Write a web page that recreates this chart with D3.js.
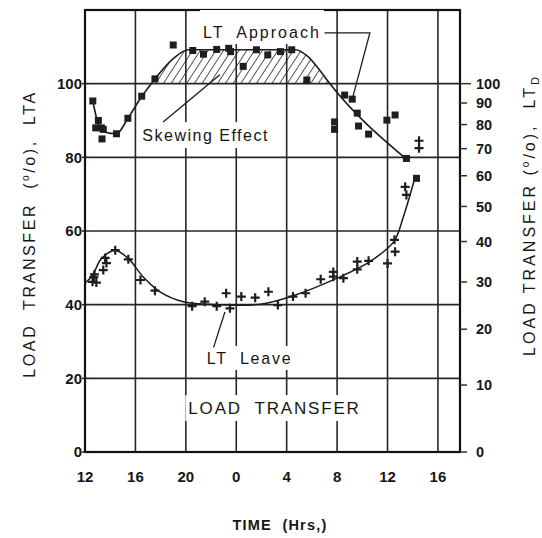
<!DOCTYPE html>
<html>
<head>
<meta charset="utf-8">
<script src="https://cdn.jsdelivr.net/npm/d3@7"></script>
<style>
  body { margin: 0; background: #fff; }
  text { font-family: "Liberation Sans", Arial, sans-serif; fill: #161616; white-space: pre; }
</style>
</head>
<body>
<div id="chart"></div>
<script>
/*
 *  DATA
 */
var xTicks = [12, 16, 20, 24, 28, 32, 36, 40];
var xTickLabels = ["12", "16", "20", "0", "4", "8", "12", "16"];
var yTicksLeft = [0, 20, 40, 60, 80, 100];
var yTicksRight = [0, 10, 20, 30, 40, 50, 60, 70, 80, 90, 100];

// LT approach, measured points (hours since noon of day 1, LTA %)
var approachHours = [12.62, 12.85, 13.06, 13.3, 13.45, 13.35, 14.5, 15.4, 16.5, 17.55, 19.0, 20.55, 21.4, 22.45, 23.4, 23.55, 24.55, 25.6, 26.5, 27.5, 28.4, 29.6, 31.8, 31.8, 32.6, 33.2, 33.6, 33.7, 34.5, 35.95, 36.6, 37.5, 38.3];
var approachValues = [95.3, 88.0, 90.0, 88.0, 87.6, 85.0, 86.4, 90.6, 96.6, 101.3, 110.5, 109.0, 108.0, 109.3, 109.6, 108.7, 104.7, 109.2, 107.8, 108.7, 109.2, 101.0, 89.6, 87.6, 96.9, 95.8, 92.0, 88.5, 86.3, 90.1, 91.5, 79.7, 74.3];
// LT approach, fitted line
var approachFitHours = [12.62, 13.1, 13.6, 14.5, 15.4, 16.5, 17.55, 19.0, 20.2, 28.7, 29.6, 30.5, 31.2, 37.5];
var approachFitValues = [95.3, 88.6, 86.8, 86.4, 90.6, 96.5, 101.3, 106.8, 109.2, 109.2, 107.6, 104.2, 101.0, 79.5];

// LT leave, measured points
var leaveHours = [12.6, 12.7, 12.9, 12.75, 13.45, 13.6, 13.7, 14.4, 15.44, 16.4, 17.55, 20.5, 21.5, 22.45, 23.5, 23.2, 24.4, 25.5, 26.55, 27.3, 28.5, 29.5, 30.7, 31.7, 31.7, 32.5, 33.6, 33.6, 34.5, 36.0, 36.6, 36.55, 37.4, 37.5, 38.5, 38.5];
var leaveValues = [46.2, 47.5, 46.0, 48.2, 49.4, 52.7, 51.3, 54.8, 52.3, 46.7, 43.8, 39.6, 40.8, 39.6, 39.0, 43.1, 42.2, 41.9, 43.5, 39.9, 42.2, 43.1, 46.9, 48.9, 47.6, 47.2, 51.7, 49.6, 51.9, 51.2, 54.4, 57.6, 72.0, 69.8, 84.5, 82.5];
// LT leave, fitted curve
var leaveFitHours = [12.0, 12.6, 13.3, 14.4, 15.44, 16.6, 17.95, 19.8, 21.9, 25.9, 28.5, 32.0, 34.6, 36.5, 37.26, 38.2];
var leaveFitValues = [45.8, 48.0, 52.5, 54.7, 52.5, 47.6, 43.5, 40.8, 40.1, 40.1, 42.4, 47.2, 51.7, 57.1, 63.9, 74.8];

/*
 *  SETUP
 */
var view_width = 542;
var view_height = 538;

var x_scale = d3.scaleLinear()
    .domain([12, 41.75])
    .range([85, 460]);

var y_scale = d3.scaleLinear()
    .domain([0, 120])
    .range([452, 10]);

// right axis: LT_D ticks placed on the LT_A scale
function y_right(d) {
    return y_scale(200 * d / (100 + d));
}

var svg = d3.select('#chart')
    .append('svg')
        .attr('width', view_width)
        .attr('height', view_height);

svg.append('rect')
    .attr('width', view_width)
    .attr('height', view_height)
    .attr('fill', '#fff');

var defs = svg.append('defs');
defs.append('pattern')
    .attr('id', 'hatch')
    .attr('patternUnits', 'userSpaceOnUse')
    .attr('width', 6.5)
    .attr('height', 6.5)
    .attr('patternTransform', 'rotate(33)')
    .append('line')
        .attr('x1', 0).attr('y1', 0)
        .attr('x2', 0).attr('y2', 6.5)
        .attr('stroke', '#1e1e1e')
        .attr('stroke-width', 1.5);

defs.append('clipPath')
    .attr('id', 'above100')
    .append('rect')
        .attr('x', x_scale(12))
        .attr('y', y_scale(120))
        .attr('width', x_scale(41.75) - x_scale(12))
        .attr('height', y_scale(100) - y_scale(120));

/*
 *  GRID AND FRAME
 */
var grid = svg.append('g').attr('stroke', '#262626').attr('stroke-width', 1.6);

grid.selectAll('.hgrid')
    .data(yTicksLeft.slice(1))
    .enter()
    .append('line')
        .attr('class', 'hgrid')
        .attr('x1', x_scale(12))
        .attr('x2', x_scale(41.75))
        .attr('y1', function(d) { return y_scale(d); })
        .attr('y2', function(d) { return y_scale(d); });

grid.selectAll('.vgrid')
    .data(xTicks.slice(1))
    .enter()
    .append('line')
        .attr('class', 'vgrid')
        .attr('x1', function(d) { return x_scale(d); })
        .attr('x2', function(d) { return x_scale(d); })
        .attr('y1', y_scale(0))
        .attr('y2', y_scale(120));

// hatched area between approach line and 100 %
var approachFit = approachFitHours.map(function(h, i) { return {h: h, v: approachFitValues[i]}; });

svg.append('path')
    .datum(approachFit)
    .attr('clip-path', 'url(#above100)')
    .attr('fill', 'url(#hatch)')
    .attr('d', d3.area()
        .curve(d3.curveMonotoneX)
        .x(function(d) { return x_scale(d.h); })
        .y0(y_scale(100))
        .y1(function(d) { return y_scale(d.v); }));

svg.append('rect')
    .attr('x', x_scale(12))
    .attr('y', y_scale(120))
    .attr('width', x_scale(41.75) - x_scale(12))
    .attr('height', y_scale(0) - y_scale(120))
    .attr('fill', 'none')
    .attr('stroke', '#111')
    .attr('stroke-width', 2.2);

/*
 *  AXES
 */
var axisFont = 15;

svg.selectAll('.xlabel')
    .data(xTicks)
    .enter()
    .append('text')
        .attr('class', 'xlabel')
        .attr('x', function(d) { return x_scale(d); })
        .attr('y', y_scale(0) + 25)
        .attr('dy', '0.35em')
        .attr('text-anchor', 'middle')
        .attr('font-size', axisFont)
        .attr('font-weight', 'bold')
        .text(function(d, i) { return xTickLabels[i]; });

svg.selectAll('.ylabel')
    .data(yTicksLeft)
    .enter()
    .append('text')
        .attr('class', 'ylabel')
        .attr('x', x_scale(12) - 3)
        .attr('y', function(d) { return y_scale(d); })
        .attr('dy', '0.35em')
        .attr('text-anchor', 'end')
        .attr('font-size', axisFont)
        .attr('font-weight', 'bold')
        .text(function(d) { return d; });

svg.selectAll('.ytick')
    .data(yTicksLeft)
    .enter()
    .append('line')
        .attr('class', 'ytick')
        .attr('x1', x_scale(12) - 3)
        .attr('x2', x_scale(12))
        .attr('y1', function(d) { return y_scale(d); })
        .attr('y2', function(d) { return y_scale(d); })
        .attr('stroke', '#222')
        .attr('stroke-width', 1.5);

svg.selectAll('.rtick')
    .data(yTicksRight)
    .enter()
    .append('line')
        .attr('class', 'rtick')
        .attr('x1', x_scale(41.75))
        .attr('x2', function(d) { return d == 100 ? x_scale(41.75) + 11 : x_scale(41.75) + 7; })
        .attr('y1', function(d) { return y_right(d); })
        .attr('y2', function(d) { return y_right(d); })
        .attr('stroke', '#333')
        .attr('stroke-width', 1.5);

svg.selectAll('.rlabel')
    .data(yTicksRight)
    .enter()
    .append('text')
        .attr('class', 'rlabel')
        .attr('x', x_scale(41.75) + 16)
        .attr('y', function(d) { return y_right(d); })
        .attr('dy', '0.35em')
        .attr('font-size', 14.5)
        .attr('font-weight', 'bold')
        .text(function(d) { return d; });

// axis titles
var leftTitle = svg.append('text')
    .attr('transform', 'translate(35,234)rotate(-90)')
    .attr('text-anchor', 'middle')
    .attr('font-size', 16)
    .attr('letter-spacing', 2.6);
leftTitle.append('tspan').text('LOAD  TRANSFER  (');
leftTitle.append('tspan').attr('font-size', 10).attr('dy', -6).text('o');
leftTitle.append('tspan').attr('dy', 6).text('/o),  LTA');

var rightTitle = svg.append('text')
    .attr('transform', 'translate(535,215)rotate(-90)')
    .attr('text-anchor', 'middle')
    .attr('font-size', 16)
    .attr('letter-spacing', 3.0);
rightTitle.append('tspan').text('LOAD TRANSFER (');
rightTitle.append('tspan').attr('font-size', 10).attr('dy', -6).text('o');
rightTitle.append('tspan').attr('dy', 6).text('/o),  LT');
rightTitle.append('tspan').attr('font-size', 11).attr('dy', 4).text('D');

svg.append('text')
    .attr('x', 280)
    .attr('y', 525)
    .attr('dy', '0.35em')
    .attr('text-anchor', 'middle')
    .attr('font-size', 14.5)
    .attr('font-weight', 'bold')
    .attr('letter-spacing', 1.2)
    .text('TIME  (Hrs,)');

/*
 *  SERIES
 */
var leaveFit = leaveFitHours.map(function(h, i) { return {h: h, v: leaveFitValues[i]}; });

var valueline = d3.line()
    .x(function(d) { return x_scale(d.h); })
    .y(function(d) { return y_scale(d.v); });

svg.append('path')
    .datum(approachFit)
    .attr('fill', 'none')
    .attr('stroke', '#1c1c1c')
    .attr('stroke-width', 1.6)
    .attr('d', valueline.curve(d3.curveMonotoneX));

svg.append('path')
    .datum(leaveFit)
    .attr('fill', 'none')
    .attr('stroke', '#1c1c1c')
    .attr('stroke-width', 1.5)
    .attr('d', valueline.curve(d3.curveCatmullRom.alpha(0.5)));

svg.selectAll('.square')
    .data(approachHours)
    .enter()
    .append('rect')
        .attr('class', 'square')
        .attr('x', function(d) { return x_scale(d) - 3.5; })
        .attr('y', function(d, i) { return y_scale(approachValues[i]) - 3.5; })
        .attr('width', 7)
        .attr('height', 7)
        .attr('fill', '#1e1e1e');

svg.selectAll('.cross')
    .data(leaveHours)
    .enter()
    .append('path')
        .attr('class', 'cross')
        .attr('transform', function(d, i) { return 'translate(' + x_scale(d) + ',' + y_scale(leaveValues[i]) + ')'; })
        .attr('d', 'M-4.5,0H4.5M0,-4.5V4.5')
        .attr('stroke', '#1e1e1e')
        .attr('stroke-width', 2.2);

/*
 *  ANNOTATIONS
 */
function addLabel(txt, h, v, size, spacing, padTop, padBottom) {
    var g = svg.append('g');
    var bg = g.append('rect').attr('fill', '#fff');
    var t = g.append('text')
        .attr('x', x_scale(h))
        .attr('y', y_scale(v))
        .attr('font-size', size)
        .attr('letter-spacing', spacing)
        .text(txt);
    var bb = t.node().getBBox();
    bg.attr('x', bb.x - 3)
        .attr('y', bb.y - padTop)
        .attr('width', bb.width + 6)
        .attr('height', bb.height + padTop + padBottom);
}

function leader(points) {
    svg.append('path')
        .datum(points)
        .attr('fill', 'none')
        .attr('stroke', '#1c1c1c')
        .attr('stroke-width', 1.3)
        .attr('d', d3.line()
            .x(function(d) { return x_scale(d[0]); })
            .y(function(d) { return y_scale(d[1]); }));
}

addLabel('LT  Approach', 21.37, 112.4, 16, 2.0, 14, 3);
leader([[31.0, 113.8], [34.6, 113.8], [33.25, 96.4]]);

addLabel('Skewing Effect', 16.55, 84.4, 16, 1.5, 5, 4);
leader([[18.2, 89.6], [22.7, 102.4]]);

addLabel('LT  Leave', 21.65, 23.9, 16, 1.8, 4, 3);
leader([[22.2, 28.4], [23.1, 38.0]]);

addLabel('LOAD  TRANSFER', 20.2, 10.3, 17, 1.8, 4, 3);
</script>
</body>
</html>
